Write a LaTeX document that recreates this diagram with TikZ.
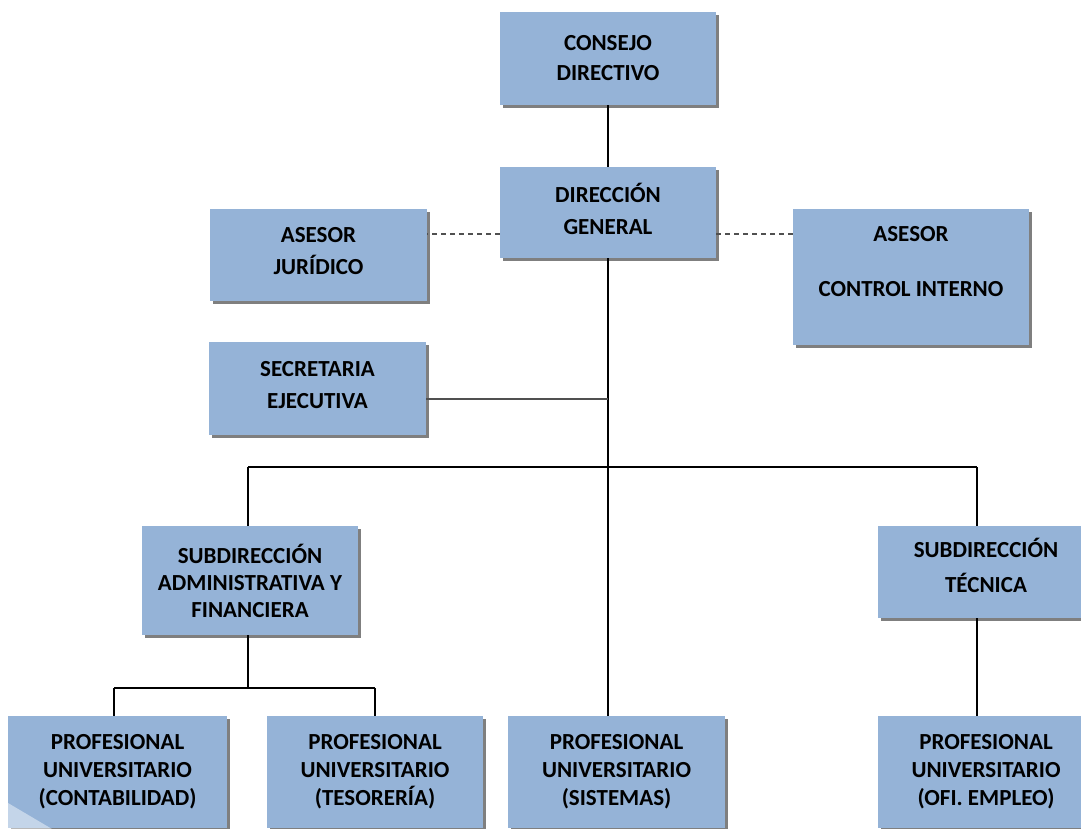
\documentclass[tikz,border=0pt]{standalone}
\usepackage{fontspec}
\setmainfont{Carlito}
\usetikzlibrary{shadows,calc}
\definecolor{boxblue}{HTML}{95B3D7}
\definecolor{shadowgrey}{HTML}{7F7F7F}
\definecolor{linegrey}{HTML}{505050}
\tikzset{
  unit/.style={fill=boxblue, draw=none, inner sep=0pt, align=center,
    font=\fontsize{23}{30}\selectfont\bfseries, text=black,
    minimum width=216pt,
    drop shadow={shadow xshift=3pt, shadow yshift=-3pt, fill=shadowgrey, opacity=1}},
  wide/.style={font=\fontsize{23}{32}\selectfont\bfseries},
  link/.style={draw=black, line width=1.4pt},
  advice/.style={draw=linegrey, line width=1.4pt, dash pattern=on 5pt off 4pt}
}
\begin{document}
\begin{tikzpicture}[x=1pt, y=-1pt]
\useasboundingbox (0,0) rectangle (1081,829);
\fill[white] (0,0) rectangle (1081,829);
\begin{scope}
\clip (0,0) rectangle (1081,829);
% top levels
\node[unit, minimum height=93pt] (cons) at (608,58.5) {CONSEJO\\DIRECTIVO};
\node[unit, wide, minimum height=91pt] (dir) at (608,212.5) {DIRECCIÓN\\GENERAL\\[-24pt]\mbox{}};
% advisers and secretary
\node[unit, wide, minimum width=217pt, minimum height=92pt] (jur) at (318.5,255) {ASESOR\\JURÍDICO\\[-24pt]\mbox{}};
\node[unit, minimum width=236pt, minimum height=136pt] (ci) at (911,277) {ASESOR\\[25pt]CONTROL INTERNO\\[2pt]\mbox{}};
\node[unit, wide, minimum width=217pt, minimum height=93pt] (sec) at (317.5,388.5) {SECRETARIA\\EJECUTIVA\\[-24pt]\mbox{}};
% sub-directorates
\node[unit, minimum height=109pt, font=\fontsize{23}{27}\selectfont\bfseries] (adm) at (250,580.5) {SUBDIRECCIÓN\\ADMINISTRATIVA Y\\FINANCIERA};
\node[unit, minimum height=92pt, font=\fontsize{23}{35}\selectfont\bfseries] (tec) at (986,572) {SUBDIRECCIÓN\\TÉCNICA\\[-22pt]\mbox{}};
% professional staff
\tikzset{prof/.style={unit, minimum height=112pt, font=\fontsize{23}{28}\selectfont\bfseries}}
\node[prof, minimum width=219pt] (cont) at (117.5,772) {PROFESIONAL\\UNIVERSITARIO\\(CONTABILIDAD)};
\node[prof] (tes) at (375,772) {PROFESIONAL\\UNIVERSITARIO\\(TESORERÍA)};
\node[prof, minimum width=217pt] (sis) at (616.5,772) {PROFESIONAL\\UNIVERSITARIO\\(SISTEMAS)};
\node[prof] (emp) at (986,772) {PROFESIONAL\\UNIVERSITARIO\\(OFI. EMPLEO)};
% light glare on the lower-left corner
\fill[white, opacity=0.45] (8,803) -- (8,829) -- (52,829) -- cycle;
\end{scope}

% connection points
\coordinate (barL) at (248,467);
\coordinate (barR) at (977,467);
\coordinate (fin)  at (248,688);
\coordinate (finL) at (114,688);
\coordinate (finR) at (375,688);
\coordinate (secj) at (608,399);

% solid reporting lines
\draw[link] (cons.south) -- (dir.north);
\draw[link] (dir.south) -- ([xshift=-8.5pt]sis.north);
\draw[link] (barL) -- (barR);
\draw[link] (barL) -- ([xshift=-2pt]adm.north);
\draw[link] (barR) -- ([xshift=-9pt]tec.north);
\draw[link] ([xshift=-9pt]tec.south) -- ([xshift=-9pt]emp.north);
\draw[link] ([xshift=-2pt]adm.south) -- (fin);
\draw[link] (finL) -- (finR);
\draw[link] (finL) -- ([xshift=-3.5pt]cont.north);
\draw[link] (finR) -- (tes.north);
\draw[draw=linegrey, line width=2.6pt] ([yshift=-10.5pt]sec.east) -- (secj);

% dashed advisory lines
\draw[advice] ([yshift=-21.5pt]dir.west) -- ([yshift=21pt]jur.east);
\draw[advice] ([yshift=-21.5pt]dir.east) -- ([yshift=43pt]ci.west);
\end{tikzpicture}
\end{document}
